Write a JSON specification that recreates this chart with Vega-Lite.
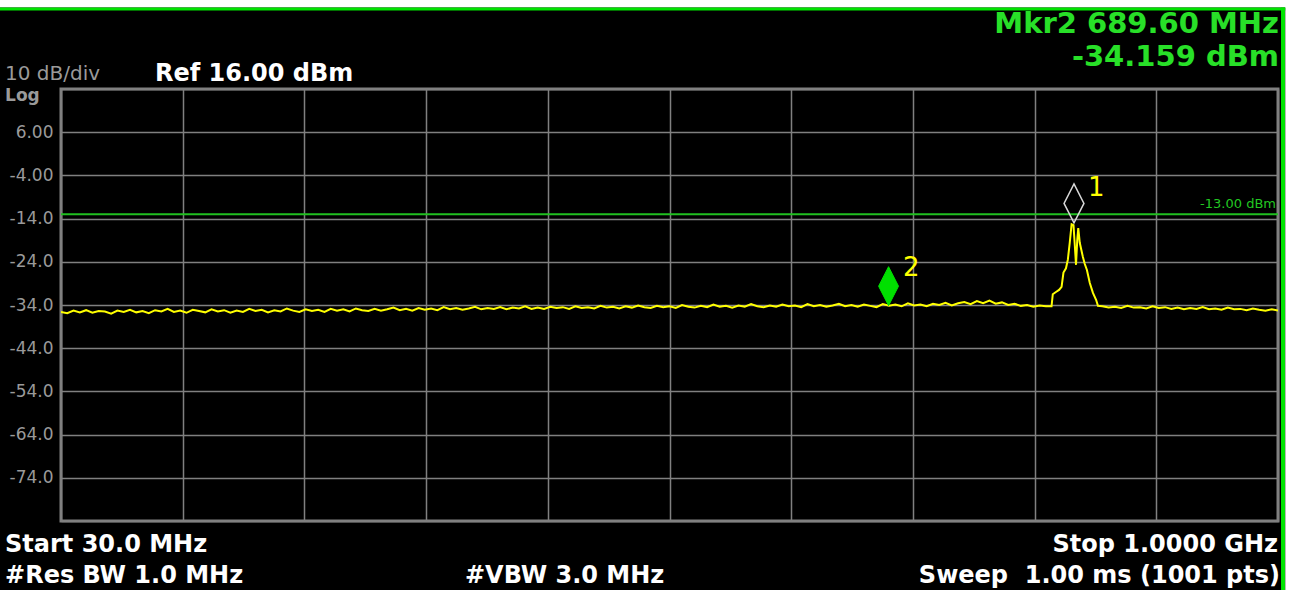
{
  "$schema": "https://vega.github.io/schema/vega-lite/v6.json",
  "width": 1217,
  "height": 432,
  "autosize": "none",
  "padding": {"left": 61, "top": 89, "right": 17, "bottom": 69},
  "background": "black",
  "config": {"view": {"stroke": "#808080", "strokeWidth": 3, "fill": "black"}, "font": "DejaVu Sans"},
  "encoding": {
    "x": {"field": "f", "type": "quantitative", "title": null,
      "scale": {"domain": [30, 1000], "nice": false, "zero": false},
      "axis": {"values": [30, 127, 224, 321, 418, 515, 612, 709, 806, 903, 1000], "labels": false, "ticks": false, "domain": false, "grid": true, "gridColor": "#808080", "gridWidth": 1.5, "gridOpacity": 1, "title": null}},
    "y": {"field": "v", "type": "quantitative", "title": null,
      "scale": {"domain": [-84, 16], "nice": false, "zero": false},
      "axis": {"values": [16, 6, -4, -14, -24, -34, -44, -54, -64, -74, -84], "ticks": false, "domain": false, "grid": true, "gridColor": "#808080", "gridWidth": 1.5, "gridOpacity": 1, "title": null,
        "labelExpr": "datum.value == 16 || datum.value == -84 ? '' : (datum.value < 0 ? '-' : '') + format(abs(datum.value), datum.value > -10 ? '.2f' : '.1f')",
        "labelFont": "DejaVu Sans", "labelFontSize": 17, "labelColor": "#9a9a9a", "labelPadding": 8, "labelOverlap": false, "labelFlush": false, "labelBaseline": "middle"}}
  },
  "layer": [
    {
      "data": {"values": [
        {"f": -30, "f2": 1040, "v": 34.87, "v2": 45},
        {"f": 1005.8, "f2": 1040, "v": -110, "v2": 45}
      ]},
      "mark": {"type": "rect", "fill": "white", "clip": false},
      "encoding": {"x2": {"field": "f2"}, "y2": {"field": "v2"}}
    },
    {
      "data": {"values": [
        {"f": -30, "f2": 1005.8, "v": 34.5, "v2": 34.5}
      ]},
      "mark": {"type": "rule", "stroke": "#00e400", "strokeWidth": 3, "clip": false},
      "encoding": {"x2": {"field": "f2"}, "y2": {"field": "v2"}}
    },
    {
      "data": {"values": [
        {"f": 1004.0, "f2": 1004.0, "v": 34.87, "v2": -110}
      ]},
      "mark": {"type": "rule", "stroke": "#00e400", "strokeWidth": 4, "clip": false},
      "encoding": {"x2": {"field": "f2"}, "y2": {"field": "v2"}}
    },
    {
      "data": {"values": [{"f": 30, "f2": 1000, "v": -13, "v2": -13}]},
      "mark": {"type": "rule", "stroke": "#20c020", "strokeWidth": 2},
      "encoding": {"x2": {"field": "f2"}, "y2": {"field": "v2"}}
    },
    {
      "data": {"values": [
        {"f":30,"v":-35.6},{"f":35,"v":-35.9},{"f":40,"v":-35.3},{"f":45,"v":-35.7},{"f":50,"v":-35.2},{"f":55,"v":-35.8},{"f":60,"v":-35.4},{"f":65,"v":-35.5},{"f":70,"v":-36.0},{"f":75,"v":-35.3},
        {"f":80,"v":-35.6},{"f":85,"v":-35.1},{"f":90,"v":-35.7},{"f":95,"v":-35.4},{"f":100,"v":-35.9},{"f":105,"v":-35.2},{"f":110,"v":-35.5},{"f":115,"v":-34.9},{"f":120,"v":-35.6},{"f":125,"v":-35.3},
        {"f":130,"v":-35.8},{"f":135,"v":-35.1},{"f":140,"v":-35.4},{"f":145,"v":-35.7},{"f":150,"v":-35.0},{"f":155,"v":-35.5},{"f":160,"v":-35.2},{"f":165,"v":-35.8},{"f":170,"v":-35.3},{"f":175,"v":-35.6},
        {"f":180,"v":-34.9},{"f":185,"v":-35.4},{"f":190,"v":-35.1},{"f":195,"v":-35.7},{"f":200,"v":-35.2},{"f":205,"v":-35.5},{"f":210,"v":-34.8},{"f":215,"v":-35.3},{"f":220,"v":-35.6},{"f":225,"v":-35.0},
        {"f":230,"v":-35.4},{"f":235,"v":-35.1},{"f":240,"v":-35.6},{"f":245,"v":-34.9},{"f":250,"v":-35.3},{"f":255,"v":-35.0},{"f":260,"v":-35.5},{"f":265,"v":-34.8},{"f":270,"v":-35.2},{"f":275,"v":-35.4},
        {"f":280,"v":-34.9},{"f":285,"v":-35.3},{"f":290,"v":-35.0},{"f":295,"v":-34.6},{"f":300,"v":-35.2},{"f":305,"v":-34.9},{"f":310,"v":-35.3},{"f":315,"v":-34.7},{"f":320,"v":-35.1},{"f":325,"v":-34.8},
        {"f":330,"v":-35.2},{"f":335,"v":-34.5},{"f":340,"v":-35.0},{"f":345,"v":-34.7},{"f":350,"v":-35.1},{"f":355,"v":-34.8},{"f":360,"v":-34.4},{"f":365,"v":-35.0},{"f":370,"v":-34.7},{"f":375,"v":-34.9},
        {"f":380,"v":-34.5},{"f":385,"v":-35.0},{"f":390,"v":-34.6},{"f":395,"v":-34.8},{"f":400,"v":-34.3},{"f":405,"v":-34.9},{"f":410,"v":-34.6},{"f":415,"v":-34.9},{"f":420,"v":-34.4},{"f":425,"v":-34.7},
        {"f":430,"v":-34.5},{"f":435,"v":-34.9},{"f":440,"v":-34.3},{"f":445,"v":-34.7},{"f":450,"v":-34.5},{"f":455,"v":-34.8},{"f":460,"v":-34.2},{"f":465,"v":-34.6},{"f":470,"v":-34.4},{"f":475,"v":-34.8},
        {"f":480,"v":-34.3},{"f":485,"v":-34.6},{"f":490,"v":-34.1},{"f":495,"v":-34.5},{"f":500,"v":-34.7},{"f":505,"v":-34.2},{"f":510,"v":-34.5},{"f":515,"v":-34.3},{"f":520,"v":-34.7},{"f":525,"v":-34.0},
        {"f":530,"v":-34.4},{"f":535,"v":-34.6},{"f":540,"v":-34.2},{"f":545,"v":-34.5},{"f":550,"v":-33.9},{"f":555,"v":-34.4},{"f":560,"v":-34.2},{"f":565,"v":-34.6},{"f":570,"v":-34.1},{"f":575,"v":-34.4},
        {"f":580,"v":-33.8},{"f":585,"v":-34.3},{"f":590,"v":-34.5},{"f":595,"v":-34.1},{"f":600,"v":-34.4},{"f":605,"v":-33.9},{"f":610,"v":-34.3},{"f":615,"v":-34.1},{"f":620,"v":-34.5},{"f":625,"v":-33.8},
        {"f":630,"v":-34.3},{"f":635,"v":-34.0},{"f":640,"v":-34.4},{"f":645,"v":-34.1},{"f":650,"v":-33.7},{"f":655,"v":-34.3},{"f":660,"v":-34.0},{"f":665,"v":-34.4},{"f":670,"v":-33.9},{"f":675,"v":-34.2},
        {"f":680,"v":-34.5},{"f":685,"v":-33.8},{"f":690,"v":-34.16},{"f":695,"v":-33.9},{"f":700,"v":-34.3},{"f":705,"v":-33.6},{"f":710,"v":-34.1},{"f":715,"v":-33.9},{"f":720,"v":-34.3},{"f":725,"v":-33.7},
        {"f":730,"v":-34.0},{"f":735,"v":-33.5},{"f":740,"v":-34.1},{"f":745,"v":-33.6},{"f":750,"v":-33.3},{"f":755,"v":-33.8},{"f":760,"v":-33.1},{"f":765,"v":-33.6},{"f":770,"v":-33.0},{"f":775,"v":-33.7},
        {"f":780,"v":-33.4},{"f":785,"v":-34.0},{"f":790,"v":-33.7},{"f":795,"v":-34.2},{"f":800,"v":-34.0},{"f":805,"v":-34.4},{"f":810,"v":-34.1},{"f":815,"v":-34.3},{"f":819.5,"v":-34.3},
        {"f":820.5,"v":-31.5},{"f":823,"v":-31.0},{"f":825.5,"v":-30.5},{"f":827.5,"v":-29.8},{"f":829,"v":-26.5},{"f":831,"v":-25.5},{"f":832.5,"v":-23.5},{"f":834,"v":-19.6},{"f":835.5,"v":-15.3},{"f":837,"v":-15.5},
        {"f":838,"v":-20.0},{"f":839,"v":-24.7},{"f":840,"v":-19.0},{"f":840.8,"v":-16.2},{"f":842,"v":-19.6},{"f":844.5,"v":-22.9},{"f":846,"v":-24.5},{"f":847.7,"v":-25.9},{"f":850,"v":-28.9},{"f":852.5,"v":-31.2},
        {"f":855,"v":-32.8},{"f":856.5,"v":-34.2},{"f":860,"v":-34.3},{"f":865,"v":-34.6},{"f":870,"v":-34.4},{"f":875,"v":-34.7},{"f":880,"v":-34.2},{"f":885,"v":-34.6},{"f":890,"v":-34.5},{"f":895,"v":-34.8},
        {"f":900,"v":-34.3},{"f":905,"v":-34.7},{"f":910,"v":-34.5},{"f":915,"v":-34.9},{"f":920,"v":-34.6},{"f":925,"v":-35.0},{"f":930,"v":-34.7},{"f":935,"v":-34.9},{"f":940,"v":-34.5},{"f":945,"v":-35.0},
        {"f":950,"v":-34.8},{"f":955,"v":-35.1},{"f":960,"v":-34.6},{"f":965,"v":-35.0},{"f":970,"v":-34.9},{"f":975,"v":-35.2},{"f":980,"v":-34.8},{"f":985,"v":-35.1},{"f":990,"v":-35.3},{"f":995,"v":-35.0},{"f":1000,"v":-35.3}
      ]},
      "mark": {"type": "line", "stroke": "#ffff00", "strokeWidth": 2, "clip": true}
    },
    {
      "data": {"values": [{"f": 837.4, "v": -15.0, "m": "1"}]},
      "mark": {"type": "point", "shape": "M0,-2L0.51,-1L0,0L-0.51,-1Z", "size": 1521, "filled": false, "stroke": "#d8d8d8", "strokeWidth": 1.5, "opacity": 1}
    },
    {
      "data": {"values": [{"f": 689.6, "v": -34.159, "m": "2"}]},
      "mark": {"type": "point", "shape": "M0,-2L0.51,-1L0,0L-0.51,-1Z", "size": 1521, "filled": true, "fill": "#00e000", "stroke": "#00e000", "strokeWidth": 1, "opacity": 1}
    },
    {
      "data": {"values": [{"f": 848.6, "v": -8.77, "t": "1"}, {"f": 701.1, "v": -27.29, "t": "2"}]},
      "mark": {"type": "text", "align": "left", "baseline": "alphabetic", "font": "DejaVu Sans", "fontSize": 26, "fill": "#ffff00"},
      "encoding": {"text": {"field": "t"}}
    },
    {
      "data": {"values": [{"f": 998.4, "v": -11.55, "t": "-13.00 dBm"}]},
      "mark": {"type": "text", "align": "right", "baseline": "alphabetic", "font": "DejaVu Sans", "fontSize": 13, "fill": "#22c822"},
      "encoding": {"text": {"field": "t"}}
    },
    {
      "data": {"values": [{"f": -14.6, "v": 18.1, "t": "10 dB/div"}]},
      "mark": {"type": "text", "align": "left", "baseline": "alphabetic", "font": "DejaVu Sans", "fontSize": 20, "fill": "#9a9a9a"},
      "encoding": {"text": {"field": "t"}}
    },
    {
      "data": {"values": [{"f": -14.6, "v": 13.3, "t": "Log"}]},
      "mark": {"type": "text", "align": "left", "baseline": "alphabetic", "font": "DejaVu Sans", "fontSize": 17, "fontWeight": "bold", "fill": "#9a9a9a"},
      "encoding": {"text": {"field": "t"}}
    },
    {
      "data": {"values": [{"f": 104.9, "v": 17.85, "t": "Ref 16.00 dBm"}]},
      "mark": {"type": "text", "align": "left", "baseline": "alphabetic", "font": "DejaVu Sans", "fontSize": 24, "fontWeight": "bold", "fill": "#ffffff"},
      "encoding": {"text": {"field": "t"}}
    },
    {
      "data": {"values": [{"f": 1000.8, "v": 28.96, "t": "Mkr2 689.60 MHz"}, {"f": 1000.8, "v": 21.32, "t": "-34.159 dBm"}]},
      "mark": {"type": "text", "align": "right", "baseline": "alphabetic", "font": "DejaVu Sans", "fontSize": 29, "fontWeight": "bold", "fill": "#28e028"},
      "encoding": {"text": {"field": "t"}}
    },
    {
      "data": {"values": [
        {"f": -14.6, "v": -91.18, "t": "Start 30.0 MHz"},
        {"f": -14.6, "v": -98.35, "t": "#Res BW 1.0 MHz"},
        {"f": 352.0, "v": -98.35, "t": "#VBW 3.0 MHz"}
      ]},
      "mark": {"type": "text", "align": "left", "baseline": "alphabetic", "font": "DejaVu Sans", "fontSize": 24, "fontWeight": "bold", "fill": "#ffffff"},
      "encoding": {"text": {"field": "t"}}
    },
    {
      "data": {"values": [
        {"f": 1000.0, "v": -91.18, "t": "Stop 1.0000 GHz"},
        {"f": 1001.6, "v": -98.35, "t": "Sweep \u00a01.00 ms (1001 pts)"}
      ]},
      "mark": {"type": "text", "align": "right", "baseline": "alphabetic", "font": "DejaVu Sans", "fontSize": 24, "fontWeight": "bold", "fill": "#ffffff"},
      "encoding": {"text": {"field": "t"}}
    }
  ]
}
